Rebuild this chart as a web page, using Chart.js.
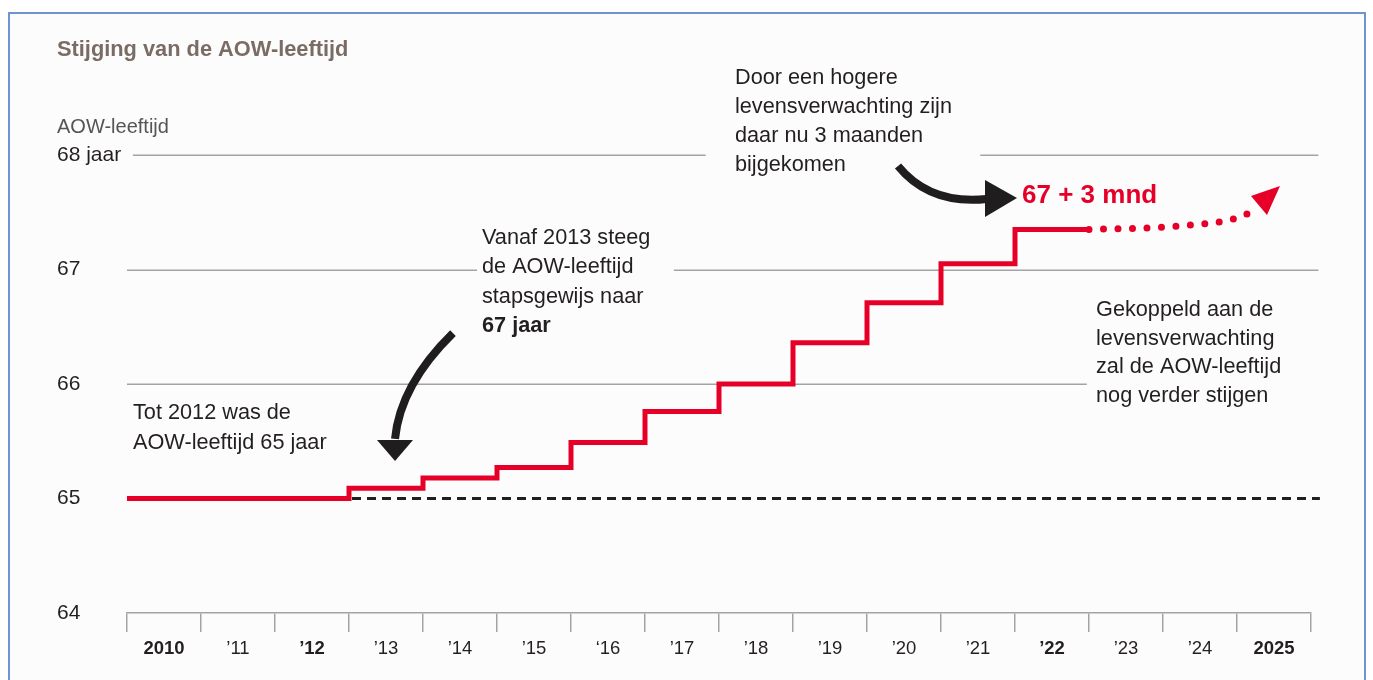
<!DOCTYPE html>
<html>
<head>
<meta charset="utf-8">
<script src="https://cdn.jsdelivr.net/npm/chart.js@4.4.1/dist/chart.umd.min.js"></script>
<style>
  html, body { margin:0; padding:0; background:#ffffff; width:1373px; height:680px; overflow:hidden; }
  #frame { position:absolute; left:8px; top:12px; width:1358px; height:700px; border:2px solid #6f93d3; background:#fcfcfc; box-sizing:border-box; }
  #c { position:absolute; left:0; top:0; }
</style>
</head>
<body>
<div id="frame"></div>
<canvas id="c" width="1373" height="680"></canvas>
<script>
// ---------- DATA ----------
const xLabels = ['2010','\u201911','\u201912','\u201913','\u201914','\u201915','\u201816','\u201917','\u201918','\u201919','\u201920','\u201921','\u201922','\u201923','\u201924','2025'];
const boldLabels = ['2010','\u201912','\u201922','2025'];
const stepYears = [2010, 2011, 2012, 2013, 2014, 2015, 2016, 2017, 2018, 2019, 2020, 2021, 2022];
const aowAge    = [65, 65, 65, 65.09, 65.18, 65.27, 65.49, 65.76, 66.0, 66.36, 66.71, 67.05, 67.35];
const projYears = [2023, 2024.23, 2025.05, 2025.23];
const projAge   = [67.35, 67.38, 67.46, 67.52];
const baseYears = [2010, 2026.12];
const baseAge   = [65, 65];
const yTicks = [64, 65, 66, 67, 68];
const yTickLabels = ['64', '65', '66', '67', '68 jaar'];

const FONT = '"Liberation Sans", Arial, Helvetica, sans-serif';
const RED = '#e60028';
const INK = '#231f20';

// step points (each year value holds until the next year)
const stepPoints = stepYears.map((yr, i) => ({x: yr, y: aowAge[i]}));
stepPoints.push({x: stepYears[stepYears.length - 1] + 1, y: aowAge[aowAge.length - 1]});
const projPoints = projYears.map((yr, i) => ({x: yr, y: projAge[i]}));
const basePoints = baseYears.map((yr, i) => ({x: yr, y: baseAge[i]}));

// x ticks: integer boundaries (tick marks) + half-year centres (labels)
const xTickValues = [];
for (let v = 2010; v <= 2026; v++) xTickValues.push(v);
for (let i = 0; i < xLabels.length; i++) xTickValues.push(2010.5 + i);
xTickValues.sort((a, b) => a - b);

const annot = {
  id: 'annot',
  beforeDatasetsDraw(chart) {
    const {ctx, scales: {x, y}} = chart;
    ctx.save();
    ctx.strokeStyle = '#a3a3a3';
    ctx.lineWidth = 1.5;
    const segs = [[68, 2010.08, 2017.82], [68, 2021.53, 2026.1], [67, 2010, 2014.73], [67, 2017.39, 2026.1], [66, 2010, 2022.97]];
    segs.forEach(s => {
      const py = Math.round(y.getPixelForValue(s[0])) + 0.25;
      ctx.beginPath();
      ctx.moveTo(x.getPixelForValue(s[1]), py);
      ctx.lineTo(x.getPixelForValue(s[2]), py);
      ctx.stroke();
    });
    ctx.restore();
  },
  afterDraw(chart) {
    const {ctx, scales: {x, y}} = chart;
    const P = (a, b) => [x.getPixelForValue(a), y.getPixelForValue(b)];
    ctx.save();
    // title + subtitle
    ctx.textBaseline = 'middle';
    ctx.textAlign = 'left';
    ctx.fillStyle = '#7a6c65';
    ctx.font = 'bold 21.8px ' + FONT;
    ctx.fillText('Stijging van de AOW-leeftijd', 57, 50);
    ctx.fillStyle = '#555555';
    ctx.font = '20px ' + FONT;
    ctx.fillText('AOW-leeftijd', 57, 127);

    // annotation texts
    const block = (lines, xv, yv, lh, boldLast) => {
      const [px, py] = P(xv, yv);
      lines.forEach((t, i) => {
        ctx.font = ((boldLast && i === lines.length - 1) ? 'bold ' : '') + '21.7px ' + FONT;
        ctx.fillStyle = INK;
        ctx.fillText(t, px, py + i * lh);
      });
    };
    block(['Door een hogere', 'levensverwachting zijn', 'daar nu 3 maanden', 'bijgekomen'], 2018.216, 68.672, 29, false);
    block(['Vanaf 2013 steeg', 'de AOW-leeftijd', 'stapsgewijs naar', '67 jaar'], 2014.797, 67.275, 29.3, true);
    block(['Tot 2012 was de', 'AOW-leeftijd 65 jaar'], 2010.081, 65.747, 30, false);
    block(['Gekoppeld aan de', 'levensverwachting', 'zal de AOW-leeftijd', 'nog verder stijgen'], 2023.095, 66.646, 28.5, false);

    ctx.fillStyle = RED;
    ctx.font = 'bold 26px ' + FONT;
    const [rx, ry] = P(2022.095, 67.642);
    ctx.fillText('67 + 3 mnd', rx, ry);

    // black curved arrows
    const arrow = (s, c, e, head) => {
      ctx.strokeStyle = '#1f1d1e';
      ctx.lineWidth = 8;
      ctx.lineCap = 'butt';
      ctx.beginPath();
      ctx.moveTo(...P(...s));
      ctx.quadraticCurveTo(...P(...c), ...P(...e));
      ctx.stroke();
      ctx.fillStyle = '#1f1d1e';
      ctx.beginPath();
      ctx.moveTo(...P(...head[0]));
      ctx.lineTo(...P(...head[1]));
      ctx.lineTo(...P(...head[2]));
      ctx.closePath();
      ctx.fill();
    };
    arrow([2014.405, 66.445], [2013.689, 65.991], [2013.622, 65.52],
          [[2013.378, 65.511], [2013.865, 65.511], [2013.622, 65.328]]);
    arrow([2020.419, 67.904], [2020.851, 67.563], [2021.62, 67.616],
          [[2021.595, 67.782], [2021.595, 67.459], [2022.027, 67.625]]);

    // red arrow head of projection (tip up-right)
    ctx.fillStyle = RED;
    ctx.beginPath();
    ctx.moveTo(...P(2025.189, 67.642));
    ctx.lineTo(...P(2025.581, 67.730));
    ctx.lineTo(...P(2025.405, 67.476));
    ctx.closePath();
    ctx.fill();
    ctx.restore();
  }
};

new Chart(document.getElementById('c'), {
  type: 'line',
  data: {
    datasets: [
      {
        label: 'AOW-leeftijd',
        data: stepPoints,
        stepped: true,
        borderColor: RED,
        borderWidth: 5,
        borderJoinStyle: 'miter',
        pointRadius: 0,
        fill: false,
        order: 1
      },
      {
        label: 'Prognose',
        data: projPoints,
        borderColor: RED,
        borderWidth: 7,
        borderDash: [0, 14.5],
        borderCapStyle: 'round',
        cubicInterpolationMode: 'monotone',
        pointRadius: 0,
        fill: false,
        clip: false,
        order: 1
      },
      {
        label: '65 jaar',
        data: basePoints,
        borderColor: '#231f20',
        borderWidth: 3,
        borderDash: [9, 6],
        pointRadius: 0,
        fill: false,
        clip: false,
        order: 2
      }
    ]
  },
  options: {
    responsive: false,
    animation: false,
    events: [],
    layout: { padding: { left: 57, top: 155, right: 62, bottom: 0 } },
    plugins: { legend: { display: false }, tooltip: { enabled: false }, title: { display: false } },
    scales: {
      x: {
        type: 'linear',
        min: 2010,
        max: 2026,
        afterBuildTicks: (scale) => { scale.ticks = xTickValues.map(v => ({value: v})); },
        afterFit: (scale) => { scale.height = 67; },
        border: { display: true, color: '#a3a3a3', width: 1.5 },
        grid: {
          display: true,
          drawOnChartArea: false,
          drawTicks: true,
          tickLength: 19,
          lineWidth: 1.5,
          color: (ctx) => (ctx.tick && Number.isInteger(ctx.tick.value)) ? '#a3a3a3' : 'rgba(0,0,0,0)'
        },
        ticks: {
          autoSkip: false,
          maxRotation: 0,
          padding: 6,
          color: INK,
          font: (ctx) => ({ family: FONT, size: 18.5, weight: (ctx.tick && boldLabels.includes(ctx.tick.label)) ? 'bold' : 'normal' }),
          callback: (v) => Number.isInteger(v) ? '' : xLabels[Math.floor(v) - 2010]
        }
      },
      y: {
        type: 'linear',
        position: 'left',
        min: 64,
        max: 68,
        afterBuildTicks: (scale) => { scale.ticks = yTicks.map(v => ({value: v})); },
        afterFit: (scale) => { scale.width = 70; },
        border: { display: false },
        grid: { display: false },
        ticks: {
          crossAlign: 'far',
          color: INK,
          font: { family: FONT, size: 21 },
          callback: (v) => yTickLabels[yTicks.indexOf(v)]
        }
      }
    }
  },
  plugins: [annot]
});
</script>
</body>
</html>
